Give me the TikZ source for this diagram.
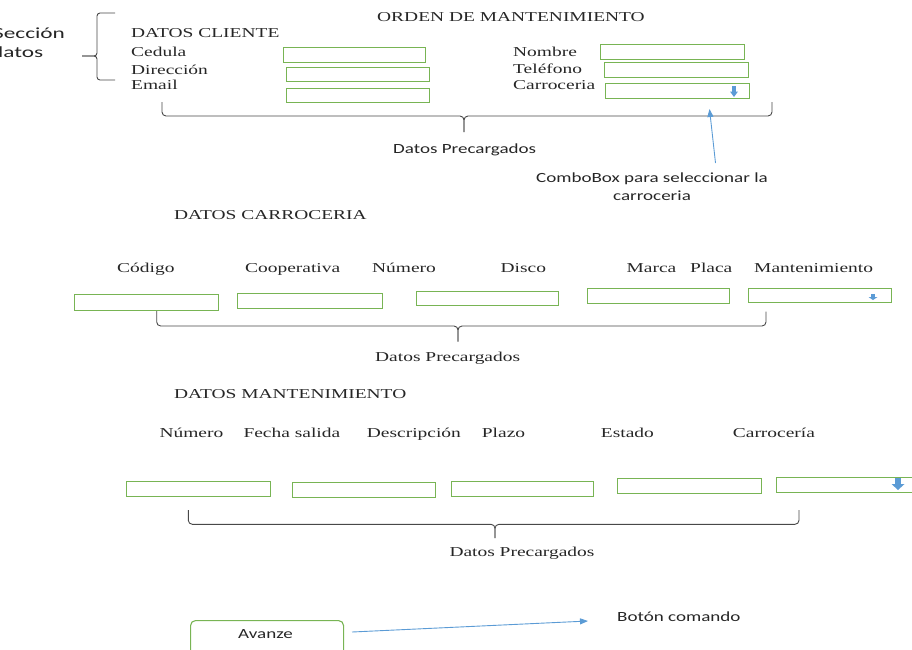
\documentclass[tikz,border=0pt]{standalone}
\usepackage{fontspec}
\setmainfont{Liberation Serif}[FakeStretch=1.43]
\newfontfamily\labelsans{Carlito}[FakeStretch=1.36]
\newfontfamily\widesans{Carlito}[FakeStretch=1.5]
\usetikzlibrary{arrows.meta}

\definecolor{fieldgreen}{RGB}{120,180,84}
\definecolor{hintblue}{RGB}{91,155,213}
\definecolor{bracegray}{RGB}{72,72,72}

% blue drop-down marker: centre x, top y, width, height
\newcommand\dropglyph[4]{%
  \fill[hintblue] (#1-#3*0.24,#2) rectangle (#1+#3*0.24,#2+#4*0.5);
  \fill[hintblue] (#1-#3*0.5,#2+#4*0.5) -- (#1+#3*0.5,#2+#4*0.5) -- (#1,#2+#4) -- cycle;}

\tikzset{
  serif/.style={font=\fontsize{13.6}{16}\selectfont, anchor=base west, inner sep=0pt, text=black!85},
  sans/.style={font=\labelsans\fontsize{14}{17}\selectfont, anchor=base west, inner sep=0pt, text=black!85},
  bigsans/.style={font=\widesans\fontsize{15.5}{19}\selectfont, anchor=base west, inner sep=0pt, text=black!85},
  field/.style={draw=fieldgreen, line width=1.1pt, anchor=north west, inner sep=0pt},
  bracket/.style={draw=bracegray, line width=0.9pt, rounded corners=4pt},
  hint/.style={draw=hintblue, line width=0.9pt, -{Triangle[length=8pt,width=6pt]}},
}

\begin{document}
\begin{tikzpicture}[x=1pt,y=-1pt]
\useasboundingbox (0,0) rectangle (912,649);
\clip (0,0) rectangle (912,649);

% ---------- client data ----------
\node[serif] (title) at (377,21) {ORDEN DE MANTENIMIENTO};

% side note, running off the left edge of the sheet
\node[bigsans] (secA) at (-7,38) {Sección};
\node[bigsans] (secB) at (-9,57) {datos};
\draw[bracket, rounded corners=3pt] (115,13) -- (97,13) -- (97,56) -- (82,56);
\draw[bracket, rounded corners=3pt] (82,56) -- (97,56) -- (97,80) -- (115,80);

\node[serif] (cliente) at (131,37) {DATOS CLIENTE};
\node[serif] (lced) at (131,56) {Cedula};
\node[serif] (ldir) at (131,74) {Dirección};
\node[serif] (lmail) at (131,89.5) {Email};
\node[field, minimum width=142pt, minimum height=15pt] (fced) at (283,47) {};
\node[field, minimum width=143pt, minimum height=14pt] (fdir) at (286,67) {};
\node[field, minimum width=143pt, minimum height=14pt] (fmail) at (286,88) {};

\node[serif] (lnom) at (513,56) {Nombre};
\node[serif] (ltel) at (513,73) {Teléfono};
\node[serif] (lcarr) at (513,89) {Carroceria};
\node[field, minimum width=144pt, minimum height=15pt] (fnom) at (600,44) {};
\node[field, minimum width=144pt, minimum height=15pt] (ftel) at (604,62) {};
\node[field, minimum width=144pt, minimum height=15pt] (fcarr) at (605,83) {};
\dropglyph{734}{86}{8}{11}

\draw[bracket] (162,102) -- (162,116) -- (464,116) -- (464,132);
\draw[bracket] (464,132) -- (464,116) -- (772,116) -- (772,102);
\node[sans] (pre1) at (393,153) {Datos Precargados};

\node[sans, anchor=base] (combo) at (652,182.7) {ComboBox para seleccionar la};
\node[sans, anchor=base] (combo2) at (652,200) {carroceria};
\coordinate (cbtail) at (715.5,163);
\coordinate (cbtip) at (709.5,109);
\draw[hint] (cbtail) -- (cbtip);

% ---------- body data ----------
\node[serif] (carroceria) at (174,219) {DATOS CARROCERIA};
\node[serif] (lcod) at (117,272) {Código};
\node[serif] (lcoop) at (245,272) {Cooperativa};
\node[serif] (lnum) at (372,272) {Número};
\node[serif] (ldisco) at (500.5,272) {Disco};
\node[serif] (lmarca) at (626.5,272) {Marca};
\node[serif] (lplaca) at (690,272) {Placa};
\node[serif] (lmant) at (754,272) {Mantenimiento};

\node[field, minimum width=143.7pt, minimum height=15.5pt] (fcod) at (74,294.3) {};
\node[field, minimum width=145pt, minimum height=15pt] (fcoop) at (236.7,292.7) {};
\node[field, minimum width=142.3pt, minimum height=14.5pt] (fnum) at (416,290.7) {};
\node[field, minimum width=142.6pt, minimum height=14.4pt] (fmarca) at (586.7,288.3) {};
\node[field, minimum width=142.4pt, minimum height=14pt] (fmant) at (748.3,287.7) {};
\dropglyph{873}{294}{9}{6}

\draw[bracket] (156.7,311) -- (156.7,326) -- (458,326) -- (458,341.7);
\draw[bracket] (458,341.7) -- (458,326) -- (766,326) -- (766,311.7);
\node[serif] (pre2) at (375,361.5) {Datos Precargados};

% ---------- maintenance data ----------
\node[serif] (mant) at (174,398) {DATOS MANTENIMIENTO};
\node[serif] (mnum) at (159.3,437.3) {Número};
\node[serif] (mfecha) at (243.3,437.3) {Fecha salida};
\node[serif] (mdesc) at (366.7,437.3) {Descripción};
\node[serif] (mplazo) at (481.7,437.3) {Plazo};
\node[serif] (mestado) at (600.7,437.3) {Estado};
\node[serif] (mcarr) at (732.7,437.3) {Carrocería};

\node[field, minimum width=144pt, minimum height=15.3pt] (gnum) at (126,480.7) {};
\node[field, minimum width=143.3pt, minimum height=15pt] (gfecha) at (291.7,482.3) {};
\node[field, minimum width=142.6pt, minimum height=15pt] (gdesc) at (450.7,480.7) {};
\node[field, minimum width=144pt, minimum height=15pt] (gestado) at (616.7,478.3) {};
\node[field, minimum width=160pt, minimum height=15pt] (gcarr) at (776,476.7) {};
\dropglyph{898}{478}{13}{12}

\draw[bracket] (188.3,510) -- (188.3,524.3) -- (495,524.3) -- (495,538);
\draw[bracket] (495,538) -- (495,524.3) -- (799,524.3) -- (799,510);
\node[serif] (pre3) at (449.3,556.7) {Datos Precargados};

% ---------- command button ----------
\node[field, rounded corners=5pt, minimum width=153pt, minimum height=45pt] (btn) at (190,620) {};
\node[sans] (btnlabel) at (238,638.5) {Avanze};
\node[sans] (cmd) at (617,621) {Botón comando};
\coordinate (cmdtail) at (352,632);
\coordinate (cmdtip) at (588,621);
\draw[hint] (cmdtail) -- (cmdtip);
\end{tikzpicture}
\end{document}
